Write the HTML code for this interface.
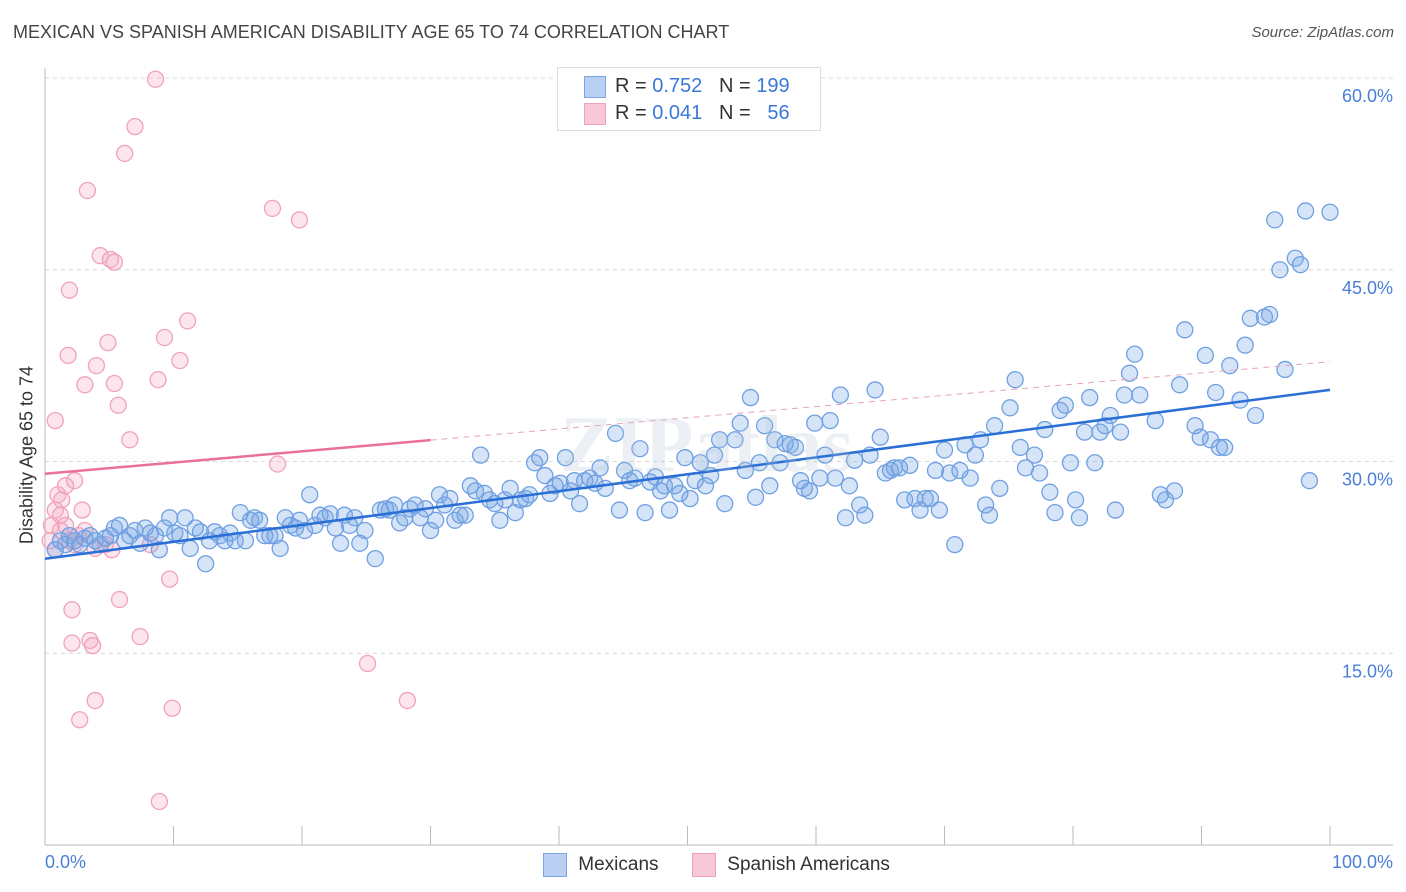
<!DOCTYPE html>
<html><head><meta charset="utf-8">
<style>
body{margin:0;background:#fff;font-family:"Liberation Sans",sans-serif;}
#wrap{position:relative;width:1406px;height:892px;overflow:hidden;}
.t{position:absolute;white-space:nowrap;}
</style></head>
<body>
<div id="wrap">
<div class="t" style="left:13px;top:22px;font-size:18px;color:#444;">MEXICAN VS SPANISH AMERICAN DISABILITY AGE 65 TO 74 CORRELATION CHART</div>
<div class="t" style="right:12px;top:24px;font-size:15px;color:#555;font-style:italic;">Source: ZipAtlas.com</div>
<svg id="plot" width="1406" height="892" style="position:absolute;left:0;top:0"></svg>
</div>
<script>
const yTicks=[15,30,45,60];
const yTickLabels=["15.0%","30.0%","45.0%","60.0%"];
const xTickVals=[0,10,20,30,40,50,60,70,80,90,100];
const mexX=[0.8,1.2,1.6,1.9,2.3,2.7,3.1,3.5,3.9,4.3,4.7,5.1,5.4,5.8,6.2,6.6,7.0,7.4,7.8,8.2,8.6,8.9,9.3,9.7,10.1,10.5,10.9,11.3,11.7,12.1,12.5,12.8,13.2,13.6,14.0,14.4,14.8,15.2,15.6,16.0,16.3,16.7,17.1,17.5,17.9,18.3,18.7,19.1,19.5,19.8,20.2,20.6,21.0,21.4,21.8,22.2,22.6,23.0,23.3,23.7,24.1,24.5,24.9,25.7,26.1,26.5,26.8,27.2,27.6,28.0,28.4,28.8,29.2,29.6,30.0,30.4,30.7,31.1,31.5,31.9,32.3,32.7,33.1,33.5,33.9,34.2,34.6,35.0,35.4,35.8,36.2,36.6,37.0,37.4,37.7,38.1,38.5,38.9,39.3,39.7,40.1,40.5,40.9,41.2,41.6,42.0,42.4,42.8,43.2,43.6,44.4,44.7,45.1,45.5,45.9,46.3,46.7,47.1,47.5,47.9,48.2,48.6,49.0,49.4,49.8,50.2,50.6,51.0,51.4,51.8,52.1,52.5,52.9,53.7,54.1,54.5,54.9,55.3,55.6,56.0,56.4,56.8,57.2,57.6,58.0,58.4,58.8,59.1,59.5,59.9,60.3,60.7,61.1,61.5,61.9,62.3,62.6,63.0,63.4,63.8,64.2,64.6,65.0,65.4,65.8,66.1,66.5,66.9,67.3,67.7,68.1,68.5,68.9,69.3,69.6,70.0,70.4,70.8,71.2,71.6,72.0,72.4,72.8,73.2,73.5,73.9,74.3,75.1,75.5,75.9,76.3,77.0,77.4,77.8,78.2,78.6,79.0,79.4,79.8,80.2,80.5,80.9,81.3,81.7,82.1,82.5,82.9,83.3,83.7,84.0,84.4,84.8,85.2,86.4,86.8,87.2,87.9,88.3,88.7,89.5,89.9,90.3,90.7,91.1,91.4,91.8,92.2,93.0,93.4,93.8,94.2,94.9,95.3,95.7,96.1,96.5,97.3,97.7,98.1,98.4,100];
const mexY=[23.1,23.8,23.5,24.2,23.8,23.5,24.0,24.2,23.8,23.5,24.0,24.2,24.8,25.0,23.8,24.2,24.6,23.6,24.8,24.4,24.2,23.1,24.8,25.6,24.4,24.2,25.6,23.2,24.8,24.5,22.0,23.8,24.5,24.2,23.8,24.4,23.8,26.0,23.8,25.4,25.6,25.4,24.2,24.2,24.2,23.2,25.6,25.0,24.8,25.4,24.6,27.4,25.0,25.8,25.6,25.9,24.8,23.6,25.8,25.0,25.6,23.6,24.6,22.4,26.2,26.3,26.2,26.6,25.2,25.6,26.3,26.6,25.6,26.3,24.6,25.4,27.4,26.6,27.1,25.4,25.8,25.8,28.1,27.7,30.5,27.5,27.0,26.7,25.4,27.0,27.9,26.0,27.0,27.1,27.4,29.9,30.3,28.9,27.5,28.1,28.3,30.3,27.7,28.5,26.7,28.5,28.7,28.3,29.5,27.9,32.2,26.2,29.3,28.5,28.7,31.0,26.0,28.4,28.8,27.7,28.1,26.2,28.1,27.5,30.3,27.1,28.5,29.9,28.1,28.9,30.5,31.7,26.7,31.7,33.0,29.3,35.0,27.2,29.9,32.8,28.1,31.7,29.9,31.4,31.3,31.1,28.5,27.9,27.7,33.0,28.7,30.5,33.2,28.7,35.2,25.6,28.1,30.1,26.6,25.8,30.5,35.6,31.9,29.1,29.3,29.5,29.5,27.0,29.7,27.1,26.2,27.1,27.1,29.3,26.2,30.9,29.1,23.5,29.3,31.3,28.7,30.5,31.7,26.6,25.8,32.8,27.9,34.2,36.4,31.1,29.5,30.5,29.1,32.5,27.6,26.0,34.0,34.4,29.9,27.0,25.6,32.3,35.0,29.9,32.3,32.8,33.6,26.2,32.3,35.2,36.9,38.4,35.2,33.2,27.4,27.0,27.7,36.0,40.3,32.8,31.9,38.3,31.7,35.4,31.1,31.1,37.5,34.8,39.1,41.2,33.6,41.3,41.5,48.9,45.0,37.2,45.9,45.4,49.6,28.5,49.5];
const spaX=[0.4,0.5,0.8,1.0,0.8,1.2,1.3,1.6,1.8,1.9,2.1,2.1,2.3,2.6,2.7,2.9,3.1,3.3,3.5,3.7,3.9,4.0,4.3,4.7,4.9,5.1,5.2,5.4,5.4,5.7,5.8,6.2,6.6,7.0,7.4,8.2,8.6,8.8,8.9,9.3,9.7,9.9,10.5,11.1,17.7,18.1,19.8,25.1,28.2,1.6,1.9,2.3,3.1,3.9,0.8,1.2];
const spaY=[23.8,25.0,26.2,27.4,33.2,24.6,27.0,28.1,38.3,43.4,18.4,15.8,28.5,24.2,9.8,26.2,36.0,51.2,16.0,15.6,11.3,37.5,46.1,23.5,39.3,45.8,23.1,36.1,45.6,34.4,19.2,54.1,31.7,56.2,16.3,23.5,59.9,36.4,3.4,39.7,20.8,10.7,37.9,41.0,49.8,29.8,48.9,14.2,11.3,25.0,23.8,23.5,24.6,23.2,23.1,25.8];

const NS="http://www.w3.org/2000/svg";
const svg=document.getElementById('plot');
const X0=45,X1=1330,YT=78,YB=845;
const sx=v=>X0+(X1-X0)*v/100;
const sy=v=>YB-(YB-YT)*v/60;
function mk(tag,attrs){const e=document.createElementNS(NS,tag);for(const k in attrs)e.setAttribute(k,attrs[k]);svg.appendChild(e);return e;}
// gridlines
yTicks.forEach((v,i)=>{
 const g=mk('line',{x1:X0,x2:1393,y1:sy(v),y2:sy(v),stroke:'#d8d8d8','stroke-dasharray':'4,4'});
 
 
 const t=mk('text',{x:1393,y:sy(v)+24,'text-anchor':'end','font-size':18,fill:'#4a7fd8','font-family':'Liberation Sans, sans-serif'});
 t.textContent=yTickLabels[i];
 
 
});
const ax=mk('line',{x1:X0,x2:1393,y1:YB,y2:YB,stroke:'#bbb'});


const ay=mk('line',{x1:X0,x2:X0,y1:68,y2:YB,stroke:'#bbb'});


xTickVals.forEach(v=>{
 const l=mk('line',{x1:sx(v),x2:sx(v),y1:826,y2:YB,stroke:'#bbb'});
 
 
});
// points
function dots(xs,ys,fill,stroke,name){
 xs.forEach((x,i)=>{
  const c=mk('circle',{cx:sx(x),cy:sy(ys[i]),r:8,fill:fill,stroke:stroke,'stroke-width':1.3});
  
  
 });
}
dots(spaX,spaY,'rgba(244,170,195,0.3)','#f0a2bc','spanish-american-point');
dots(mexX,mexY,'rgba(120,165,230,0.3)','#6fa0e2','mexican-point');
function reg(xs,ys){const n=xs.length;let mx=0,my=0;xs.forEach((x,i)=>{mx+=x;my+=ys[i];});mx/=n;my/=n;let a=0,b=0;xs.forEach((x,i)=>{a+=(x-mx)*(ys[i]-my);b+=(x-mx)*(x-mx);});const m=a/b;return [my-m*mx,m];}
const [mb,mm]=reg(mexX,mexY);
const bl=mk('line',{x1:sx(0),y1:sy(mb),x2:sx(100),y2:sy(mb+100*mm),stroke:'#2a6fd6','stroke-width':2.5});


const [pb,pm0]=reg(spaX,spaY);
const pm=Math.max(pm0,0.087);
const pl=mk('line',{x1:sx(0),y1:sy(pb),x2:sx(30),y2:sy(pb+30*pm),stroke:'#e8709a','stroke-width':2.5});


const pd=mk('line',{x1:sx(30),y1:sy(pb+30*pm),x2:sx(100),y2:sy(pb+100*pm),stroke:'#e8a0b8','stroke-width':1,'stroke-dasharray':'6,5'});


</script>
<div class="t" style="left:560px;top:400px;font-size:80px;color:rgba(180,195,215,0.25);font-family:'Liberation Serif',serif;font-weight:bold;">ZIPatlas</div>
<div class="t" style="left:27px;top:455px;font-size:18px;color:#333;transform:translate(-50%,-50%) rotate(-90deg);">Disability Age 65 to 74</div>
<div class="t" style="left:45px;top:852px;font-size:18px;color:#4a7fd8;">0.0%</div>
<div class="t" style="right:13px;top:852px;font-size:18px;color:#4a7fd8;">100.0%</div>
<div style="position:absolute;left:557px;top:67px;width:262px;height:62px;border:1px solid #ddd;background:#fff;font-size:20px;">
 <div style="position:absolute;left:26px;top:8px;width:20px;height:20px;background:#b9d0f2;border:1px solid #7aa6e6;"></div>
 <div class="t" style="left:57px;top:7px;color:#333;">R = <span style="color:#3a78d8">0.752</span>&nbsp;&nbsp;&nbsp;N = <span style="color:#3a78d8">199</span></div>
 <div style="position:absolute;left:26px;top:35px;width:20px;height:20px;background:#f8c8d6;border:1px solid #f0a0b8;"></div>
 <div class="t" style="left:57px;top:34px;color:#333;">R = <span style="color:#3a78d8">0.041</span>&nbsp;&nbsp;&nbsp;N = &nbsp;&nbsp;<span style="color:#3a78d8">56</span></div>
</div>
<div style="position:absolute;left:543px;top:853px;font-size:19px;color:#333;">
 <span style="display:inline-block;width:22px;height:22px;background:#b9d0f2;border:1px solid #7aa6e6;vertical-align:middle;"></span>
 <span style="vertical-align:middle;margin-left:6px;">Mexicans</span></div>
<div style="position:absolute;left:692px;top:853px;font-size:19px;color:#333;">
 <span style="display:inline-block;width:22px;height:22px;background:#f8c8d6;border:1px solid #f0a0b8;vertical-align:middle;"></span>
 <span style="vertical-align:middle;margin-left:6px;">Spanish Americans</span></div>
</body></html>
